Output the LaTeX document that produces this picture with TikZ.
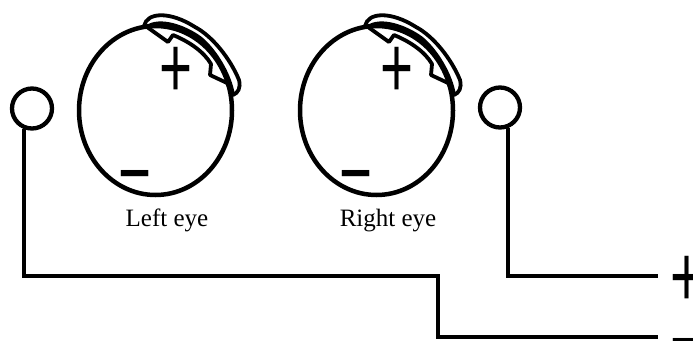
\documentclass[tikz,border=0pt]{standalone}
\usepackage{fontspec}
\setmainfont{Liberation Serif}
\newfontfamily\signfont{Liberation Sans}
\usetikzlibrary{shapes.geometric}
\tikzstyle{eyeball} = [ellipse, draw=black, line width=4.5pt, inner sep=0pt, minimum width=153pt, minimum height=169pt]
\tikzstyle{cornea} = [draw=black, line width=3.8pt, line join=round]
\tikzstyle{electrode} = [circle, draw=black, line width=4.3pt, inner sep=0pt, minimum size=40pt]
\tikzstyle{wire} = [draw=black, line width=4pt]
\tikzstyle{sign} = [inner sep=0pt, anchor=base, xscale=0.65, font=\signfont\fontsize{87}{87}\selectfont]
\tikzstyle{caption} = [inner sep=0pt, anchor=base, font=\fontsize{25}{28}\selectfont]

\begin{document}
\begin{tikzpicture}[x=1pt, y=-1pt]
			\path[use as bounding box, clip] (0,0) rectangle (693,340);
			% both eyes, the right one shifted over
			\foreach \dx/\side/\name in {0/left/Left eye, 221/right/Right eye} {
				\begin{scope}[xshift=\dx]
					\node[eyeball] (\side Eye) at (155.5,110.5) {};
					\draw[cornea] (144,26) .. controls (147,12) and (170,11) .. (195,27)
						.. controls (212,36) and (230,58) .. (239,80)
						.. controls (241,88) and (238,93) .. (233,95)
						.. controls (230,75) and (215,50) .. (200,38)
						.. controls (185,27) and (160,18) .. (147,27) -- cycle;
					\draw[cornea] (147,27) -- (168,42) -- (173,35)
						.. controls (190,42) and (204,52) .. (211,64)
						-- (210,75) -- (227,83) -- (233,95);
					\node[sign] (\side Plus) at (176,97.6) {+};
					\node[sign] (\side Minus) at (135,202.5) {−};
					\node[caption] (\side Label) at (167,226) {\name};
				\end{scope}
			}
			% electrodes and leads
			\node[electrode] (leftSocket) at (32,108.5) {};
			\node[electrode] (rightSocket) at (500,107.5) {};
			\coordinate (jog) at (438,276);
			\coordinate (plusEnd) at (658,276);
			\coordinate (minusEnd) at (658,337);
			\draw[wire] (leftSocket.250) |- (jog) |- (minusEnd);
			\draw[wire] (rightSocket.290) |- (plusEnd);
			\node[sign] (plusTerm) at (687,306.6) {+};
			\node[sign] (minusTerm) at (687,370.5) {−};
		\end{tikzpicture}
\end{document}
